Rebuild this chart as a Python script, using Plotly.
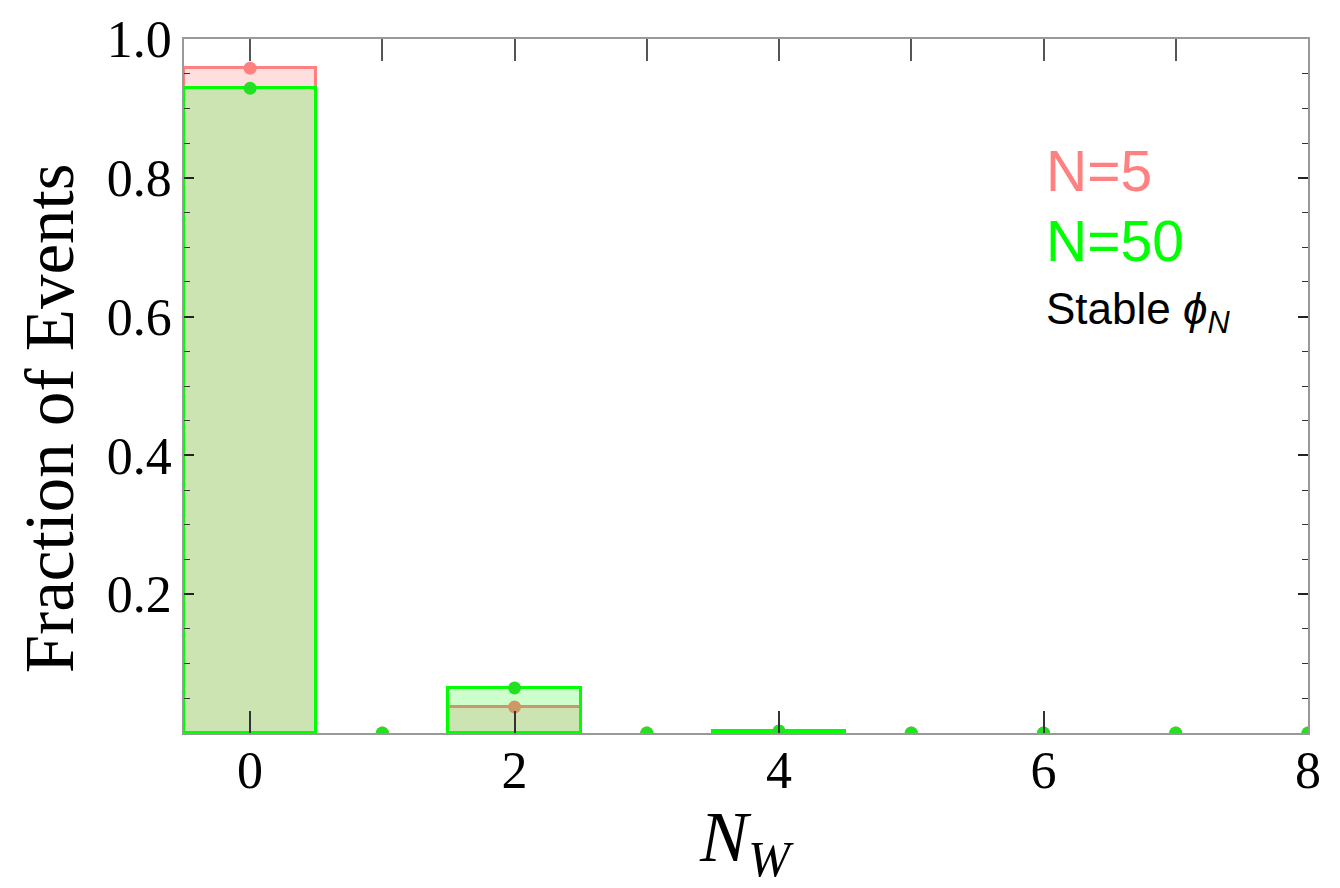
import plotly.graph_objects as go

# Data
nw_bins = [0, 1, 2, 3, 4, 5, 6, 7, 8]
frac_n5 = [0.958, 0.0, 0.0375, 0.0, 0.0008, 0.0, 0.0, 0.0, 0.0]
frac_n50 = [0.929, 0.0, 0.065, 0.0, 0.003, 0.0, 0.0, 0.0, 0.0]
x_tick_vals = [0, 2, 4, 6, 8]
x_tick_text = ["0", "2", "4", "6", "8"]
y_tick_vals = [0.2, 0.4, 0.6, 0.8, 1.0]
y_tick_text = ["0.2", "0.4", "0.6", "0.8", "1.0"]

RED = "#FF8080"
GREEN = "#00FF00"
GREEN_DOT = "#22E022"
RED_UNDER_GREEN = "#CC9966"  # red dot seen through the translucent green bar

# zero-height bins are not drawn as bars
bars_n5 = [v if v > 0 else None for v in frac_n5]
bars_n50 = [v if v > 0 else None for v in frac_n50]
red_dot_colors = [RED_UNDER_GREEN if a < b else RED for a, b in zip(frac_n5, frac_n50)]

fig = go.Figure()
fig.add_trace(go.Bar(x=nw_bins, y=bars_n5, width=1,
                     marker=dict(color="rgba(255,128,128,0.26)", line=dict(color=RED, width=3)),
                     showlegend=False, hoverinfo="skip"))
fig.add_trace(go.Bar(x=nw_bins, y=bars_n50, width=1,
                     marker=dict(color="rgba(0,255,0,0.2)", line=dict(color=GREEN, width=3)),
                     showlegend=False, hoverinfo="skip"))
fig.add_trace(go.Scatter(x=nw_bins, y=frac_n5, mode="markers",
                         marker=dict(color=red_dot_colors, size=13), showlegend=False, cliponaxis=True))
fig.add_trace(go.Scatter(x=nw_bins, y=frac_n50, mode="markers",
                         marker=dict(color=GREEN_DOT, size=13), showlegend=False, cliponaxis=True))
# invisible trace for top axis
fig.add_trace(go.Scatter(x=[0], y=[0], xaxis="x2", mode="markers",
                         marker=dict(opacity=0), showlegend=False, hoverinfo="skip"))

serif = "Liberation Serif"
sans = "Liberation Sans"

fig.update_layout(
    width=1340, height=888,
    margin=dict(l=184, r=32, t=39, b=155),
    plot_bgcolor="white", paper_bgcolor="white",
    barmode="overlay", bargap=0,
    xaxis=dict(range=[-0.5, 8], tickvals=x_tick_vals, ticktext=x_tick_text,
               ticks="inside", ticklen=22, tickcolor="#333", tickwidth=1.5,
               showline=True, linecolor="#999", linewidth=1.5, mirror=False,
               showgrid=False, zeroline=False, automargin=False,
               ticklabelstandoff=-9,
               tickfont=dict(family=serif, size=52, color="black")),
    xaxis2=dict(range=[-0.5, 8], overlaying="x", side="top", tickvals=nw_bins,
                ticks="inside", ticklen=22, tickcolor="#555", tickwidth=1.5,
                showline=True, linecolor="#999", linewidth=1.5, automargin=False,
                showticklabels=False, showgrid=False, zeroline=False),
    yaxis=dict(range=[0, 1.0], tickvals=y_tick_vals, ticktext=y_tick_text,
               ticks="inside", ticklen=10, tickcolor="#222", tickwidth=1.5,
               minor=dict(dtick=0.05, ticks="inside", ticklen=6, tickcolor="#333", tickwidth=1.2),
               showline=True, linecolor="#999", linewidth=1.5, mirror="ticks",
               showgrid=False, zeroline=False, automargin=False,
               tickfont=dict(family=serif, size=52, color="black")),
    annotations=[
        dict(text="<i>N</i><sub><i>W</i></sub>", xref="paper", yref="paper", x=0.5, y=-0.09,
             xanchor="center", yanchor="top", showarrow=False,
             font=dict(family=serif, size=72, color="black")),
        dict(text="Fraction of Events", xref="paper", yref="paper", x=-0.119, y=0.454,
             xanchor="center", yanchor="middle", textangle=-90, showarrow=False,
             font=dict(family=serif, size=69, color="black")),
        dict(text="N=5", xref="paper", yref="paper", x=0.765, y=0.81, xanchor="left", yanchor="middle",
             showarrow=False, font=dict(family=sans, size=57, color=RED)),
        dict(text="N=50", xref="paper", yref="paper", x=0.765, y=0.709, xanchor="left", yanchor="middle",
             showarrow=False, font=dict(family=sans, size=57, color=GREEN)),
        dict(text="Stable <i>ϕ</i><sub><i>N</i></sub>", xref="paper", yref="paper", x=0.765, y=0.607,
             xanchor="left", yanchor="middle",
             showarrow=False, font=dict(family=sans, size=44, color="black")),
    ],
)

fig.write_html("out.html", config={"displayModeBar": False},
               post_script="document.body.style.margin='0px';")
